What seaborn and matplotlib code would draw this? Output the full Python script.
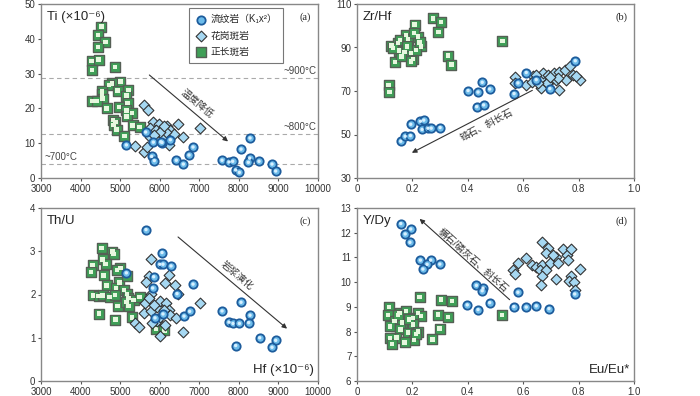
import numpy as np
import pandas as pd
import seaborn as sns
import matplotlib
matplotlib.use("Agg")
import matplotlib.pyplot as plt

sns.set_style("ticks")
plt.rcParams['font.family'] = ['Liberation Sans', 'Noto Sans CJK SC', 'DejaVu Sans']

# ---------------- data ----------------
groups = ["流纹岩（K₁x²）", "花岗斑岩", "正长斑岩"]

# Panel (a): Hf vs Ti
a_rhy_hf = [5645, 5157, 5839, 6058, 6269, 5797, 5864, 6420, 6597, 6740, 6842, 7575, 7752, 7844,
            7920, 8013, 8055, 8282, 8274, 8240, 8510, 8838, 8931, 6028]
a_rhy_ti = [13.2, 9.5, 10.3, 10.2, 11.0, 6.2, 5.0, 5.1, 4.0, 6.6, 8.9, 5.1, 4.6, 4.8,
            2.3, 1.6, 8.3, 11.5, 5.7, 4.5, 4.8, 4.0, 2.0, 10.4]
a_gra_hf = [5612, 5713, 5376, 5612, 5680, 7010, 6450, 6597, 5826, 5994, 5742, 5910, 6094, 6195,
            6263, 6364, 5759, 5944, 6094, 6162, 6011, 5843, 6230, 6120]
a_gra_ti = [21.1, 19.6, 9.1, 7.6, 8.8, 14.3, 15.4, 11.9, 16.0, 15.6, 14.3, 13.9, 14.2, 15.0,
            13.7, 12.7, 11.9, 11.9, 12.1, 13.1, 13.1, 12.4, 9.6, 14.8]
a_sye_hf = [4525, 4441, 4626, 4441, 4280, 4458, 4289, 4870, 5005, 4794, 4718, 4542, 5207, 4937,
            4542, 5157, 4559, 4289, 4407, 5190, 4660, 4971, 5157, 5300, 5165, 4820, 4879, 4837,
            5317, 5494, 4912, 5106]
a_sye_ti = [43.5, 41.1, 39.0, 37.6, 33.6, 34.0, 31.1, 31.9, 27.7, 27.2, 26.7, 25.0, 25.3, 25.1,
            24.1, 23.7, 22.8, 22.1, 22.1, 21.5, 20.0, 20.4, 19.4, 18.6, 17.7, 16.7, 16.1, 15.2,
            15.1, 14.7, 13.9, 12.0]

# Panel (b): Eu/Eu* vs Zr/Hf
b_rhy_eu = [0.158, 0.174, 0.193, 0.194, 0.229, 0.241, 0.235, 0.256, 0.268, 0.300, 0.401, 0.437,
            0.452, 0.479, 0.432, 0.457, 0.567, 0.581, 0.611, 0.647, 0.696, 0.788]
b_rhy_zh = [46.9, 49.2, 49.5, 54.7, 56.1, 56.6, 52.3, 52.9, 52.9, 53.2, 70.2, 69.5,
            74.0, 70.9, 62.8, 63.6, 68.8, 73.7, 78.5, 75.2, 71.1, 83.9]
b_gra_eu = [0.569, 0.572, 0.611, 0.635, 0.633, 0.665, 0.671, 0.690, 0.702, 0.710, 0.729, 0.750,
            0.768, 0.756, 0.780, 0.804, 0.729, 0.665, 0.686, 0.720, 0.653, 0.725, 0.696, 0.792, 0.647]
b_gra_zh = [76.3, 73.7, 72.7, 77.0, 74.3, 76.0, 78.5, 77.5, 75.2, 78.2, 78.7, 79.8,
            81.3, 75.2, 77.5, 75.2, 70.6, 71.4, 73.7, 75.2, 73.7, 76.0, 76.4, 76.7, 77.5]
b_sye_eu = [0.274, 0.304, 0.208, 0.294, 0.525, 0.329, 0.341, 0.114, 0.117, 0.124, 0.148, 0.176,
            0.156, 0.184, 0.220, 0.206, 0.232, 0.152, 0.172, 0.196, 0.202, 0.194, 0.138, 0.160,
            0.214, 0.130, 0.180, 0.226]
b_sye_zh = [103.4, 101.8, 100.5, 97.0, 93.1, 86.3, 82.1, 72.7, 69.5, 90.9, 92.0, 95.8,
            93.5, 94.0, 95.0, 96.6, 90.5, 88.6, 87.9, 87.4, 84.8, 83.6, 83.4, 85.9,
            88.9, 89.7, 90.5, 92.3]

# Panel (c): Hf vs Th/U
c_rhy_hf = [5654, 6058, 6000, 6083, 6286, 5847, 5157, 5822, 5881, 6083, 6437, 6842, 6614, 6757,
            7575, 7752, 7853, 8013, 8055, 8282, 8248, 8526, 7920, 8838, 8931]
c_rhy_th = [3.50, 2.97, 2.70, 2.70, 2.66, 2.41, 2.50, 2.15, 1.46, 1.55, 2.02, 2.24, 1.50, 1.61,
            1.62, 1.36, 1.33, 1.33, 1.82, 1.52, 1.35, 1.00, 0.82, 0.78, 0.94]
c_gra_hf = [5780, 5721, 5645, 6125, 6226, 6386, 6462, 7027, 5620, 5780, 5721, 5603, 5780, 5931,
            5998, 6150, 6226, 6268, 6100, 5931, 5805, 6134, 5998, 6420, 6597, 5376, 5486, 5998, 5847]
c_gra_th = [2.81, 2.42, 2.30, 2.27, 2.45, 2.21, 2.01, 1.81, 1.80, 2.02, 1.93, 1.57, 1.61, 1.70,
            1.85, 1.80, 1.65, 1.53, 1.65, 1.38, 1.34, 1.30, 1.03, 1.46, 1.13, 1.34, 1.24, 1.49, 1.76]
c_sye_hf = [4533, 4803, 4837, 4559, 4306, 4634, 4264, 4584, 5005, 4921, 4980, 4660, 4896, 5090,
            5174, 5174, 5207, 5342, 5494, 4314, 4458, 4559, 4735, 4870, 4937, 5157, 5216, 4466,
            4879, 5300, 5906, 6117]
c_sye_th = [3.07, 2.99, 2.93, 2.81, 2.68, 2.70, 2.52, 2.44, 2.61, 2.56, 2.28, 2.21, 2.15, 2.11,
            2.43, 2.01, 1.92, 1.87, 1.94, 1.98, 1.97, 1.98, 1.94, 1.99, 1.74, 1.82, 1.74, 1.56,
            1.42, 1.47, 1.20, 1.17]

# Panel (d): Eu/Eu* vs Y/Dy
d_rhy_eu = [0.158, 0.194, 0.174, 0.191, 0.229, 0.266, 0.299, 0.253, 0.238, 0.431, 0.455, 0.452,
            0.581, 0.398, 0.437, 0.479, 0.566, 0.611, 0.647, 0.693, 0.786]
d_rhy_yd = [12.37, 12.15, 11.95, 11.61, 10.89, 10.89, 10.73, 10.72, 10.53, 9.87, 9.76, 9.65,
            9.59, 9.08, 8.89, 9.17, 9.01, 8.99, 9.04, 8.93, 9.52]
d_gra_eu = [0.669, 0.689, 0.681, 0.717, 0.743, 0.758, 0.609, 0.581, 0.563, 0.569, 0.633, 0.647,
            0.669, 0.696, 0.726, 0.762, 0.659, 0.683, 0.669, 0.663, 0.720, 0.804, 0.774, 0.764,
            0.782, 0.787, 0.707, 0.774]
d_gra_yd = [11.63, 11.40, 11.16, 11.03, 11.36, 11.09, 10.96, 10.76, 10.49, 10.32, 10.69, 10.63,
            10.69, 10.76, 10.76, 10.89, 10.49, 10.49, 10.25, 9.89, 10.13, 10.53, 10.25, 10.03,
            10.00, 9.69, 11.09, 11.36]
d_sye_eu = [0.226, 0.304, 0.343, 0.524, 0.292, 0.328, 0.298, 0.272, 0.116, 0.112, 0.154, 0.176,
            0.220, 0.232, 0.202, 0.136, 0.163, 0.202, 0.120, 0.157, 0.184, 0.220, 0.142, 0.120,
            0.206, 0.172, 0.126, 0.148, 0.188, 0.214]
d_sye_yd = [9.41, 9.29, 9.23, 8.67, 8.69, 8.59, 8.12, 7.68, 8.99, 8.67, 8.76, 8.83,
            8.76, 8.63, 8.56, 8.43, 8.36, 8.29, 8.21, 8.09, 7.96, 8.00, 7.76, 7.73,
            7.67, 7.56, 7.49, 8.67, 8.49, 7.89]

hf_ticks = [3000, 4000, 5000, 6000, 7000, 8000, 9000, 10000]
eu_ticks = [0, 0.2, 0.4, 0.6, 0.8, 1.0]
eu_ticklabels = ["0", "0.2", "0.4", "0.6", "0.8", "1.0"]

# ---------------- styles ----------------
styles = {
    groups[0]: dict(marker="o", s=36, facecolor="#6cbbea", edgecolor="#1d5c9c", linewidth=1.3,
                    inner="#d8f0ff", inner_s=6),
    groups[1]: dict(marker="D", s=30, facecolor="#a6d8f2", edgecolor="#333333", linewidth=0.8,
                    inner=None, inner_s=0),
    groups[2]: dict(marker="s", s=42, facecolor="#3f9f57", edgecolor="#555f55", linewidth=1.0,
                    inner="#e6f7de", inner_s=10),
}

fig = plt.figure(figsize=(7.0, 3.96), dpi=100)
axA = fig.add_axes([41/700, 1-178/396, 277/700, 174/396])
axB = fig.add_axes([357/700, 1-178/396, 277/700, 174/396])
axC = fig.add_axes([41/700, 1-381/396, 277/700, 173/396])
axD = fig.add_axes([357/700, 1-381/396, 277/700, 173/396])

def draw(ax, sets):
    for gi in [2, 1, 0]:
        xs, ys = sets[gi]
        df = pd.DataFrame({"x": xs, "y": ys})
        st = styles[groups[gi]]
        sns.scatterplot(data=df, x="x", y="y", ax=ax, marker=st["marker"], s=st["s"],
                        color=st["facecolor"], edgecolor=st["edgecolor"],
                        linewidth=st["linewidth"], label=groups[gi], zorder=3)
        if st["inner"] is not None:
            sns.scatterplot(data=df, x="x", y="y", ax=ax, marker=st["marker"], s=st["inner_s"],
                            color=st["inner"], edgecolor="none", linewidth=0, zorder=3)
    ax.set_xlabel("")
    ax.set_ylabel("")

draw(axA, [(a_rhy_hf, a_rhy_ti), (a_gra_hf, a_gra_ti), (a_sye_hf, a_sye_ti)])
draw(axB, [(b_rhy_eu, b_rhy_zh), (b_gra_eu, b_gra_zh), (b_sye_eu, b_sye_zh)])
draw(axC, [(c_rhy_hf, c_rhy_th), (c_gra_hf, c_gra_th), (c_sye_hf, c_sye_th)])
draw(axD, [(d_rhy_eu, d_rhy_yd), (d_gra_eu, d_gra_yd), (d_sye_eu, d_sye_yd)])

tick_color = "#333333"
for ax in [axA, axB, axC, axD]:
    for sp in ax.spines.values():
        sp.set_color("#888888")
        sp.set_linewidth(1.0)
    ax.tick_params(axis="both", labelsize=7, colors="#555555", labelcolor=tick_color,
                   length=2.5, width=0.8, direction="out", pad=1.5)

for ax in [axA, axC]:
    ax.set_xlim(3000, 10000)
    ax.set_xticks(hf_ticks)
    ax.set_xticklabels([str(t) for t in hf_ticks])
for ax in [axB, axD]:
    ax.set_xlim(0, 1.0)
    ax.set_xticks(eu_ticks)
    ax.set_xticklabels(eu_ticklabels)

axA.set_ylim(0, 50); axA.set_yticks([0, 10, 20, 30, 40, 50])
axB.set_ylim(30, 110); axB.set_yticks([30, 50, 70, 90, 110])
axC.set_ylim(0, 4); axC.set_yticks([0, 1, 2, 3, 4])
axD.set_ylim(6, 13); axD.set_yticks([6, 7, 8, 9, 10, 11, 12, 13])

# legend only in (a)
for ax in [axB, axC, axD]:
    lg = ax.get_legend()
    if lg is not None:
        lg.remove()
h, l = axA.get_legend_handles_labels()
hmap = {}
for hd, lab in zip(h, l):
    if lab in groups and lab not in hmap:
        hmap[lab] = hd
leg = axA.legend([hmap[g] for g in groups], groups, loc="upper left",
                 bbox_to_anchor=(0.535, 0.975), frameon=True, fancybox=False,
                 fontsize=7, handletextpad=0.4, borderpad=0.6, labelspacing=0.65,
                 handlelength=1.2, borderaxespad=0)
leg.get_frame().set_edgecolor("#555555")
leg.get_frame().set_linewidth(0.8)

title_fs = 9.5
axA.text(0.02, 0.96, "Ti (×10⁻⁶)", transform=axA.transAxes, fontsize=title_fs, va="top", ha="left")
axB.text(0.02, 0.96, "Zr/Hf", transform=axB.transAxes, fontsize=title_fs, va="top", ha="left")
axC.text(0.02, 0.96, "Th/U", transform=axC.transAxes, fontsize=title_fs, va="top", ha="left")
axD.text(0.02, 0.96, "Y/Dy", transform=axD.transAxes, fontsize=title_fs, va="top", ha="left")
axC.text(0.985, 0.03, "Hf (×10⁻⁶)", transform=axC.transAxes, fontsize=title_fs, va="bottom", ha="right")
axD.text(0.985, 0.03, "Eu/Eu*", transform=axD.transAxes, fontsize=title_fs, va="bottom", ha="right")

for ax, lab in zip([axA, axB, axC, axD], ["(a)", "(b)", "(c)", "(d)"]):
    ax.text(0.975, 0.95, lab, transform=ax.transAxes, fontsize=7.5, va="top", ha="right",
            family=["Liberation Serif", "DejaVu Serif"])

# temperature lines in (a)
for yv in [28.7, 12.6, 4.0]:
    axA.axhline(yv, color="#aaaaaa", lw=0.8, ls=(0, (4, 3)), zorder=1)
axA.text(9950, 29.3, "~900°C", fontsize=7, color="#444444", ha="right", va="bottom")
axA.text(9950, 13.2, "~800°C", fontsize=7, color="#444444", ha="right", va="bottom")
axA.text(3080, 4.6, "~700°C", fontsize=7, color="#444444", ha="left", va="bottom")

arrow_kw = dict(arrowstyle="-|>", color="#333333", lw=0.8, mutation_scale=7, shrinkA=0, shrinkB=0)
cn_fs = 7
axA.annotate("", xy=(7726, 10.5), xytext=(5738, 29.6), arrowprops=arrow_kw)
axA.text(6943, 21.5, "温度降低", rotation=-40, rotation_mode="anchor", ha="center", va="center",
         fontsize=cn_fs, color="#333333")

axB.annotate("", xy=(0.198, 41.6), xytext=(0.633, 70.3), arrowprops=arrow_kw)
axB.text(0.467, 54.6, "锆石、斜长石", rotation=27.5, rotation_mode="anchor", ha="center", va="center",
         fontsize=cn_fs, color="#333333")

axC.annotate("", xy=(9218, 1.21), xytext=(6463, 3.33), arrowprops=arrow_kw)
axC.text(7954, 2.45, "岩浆演化", rotation=-40, rotation_mode="anchor", ha="center", va="center",
         fontsize=cn_fs, color="#333333")

axD.annotate("", xy=(0.226, 12.56), xytext=(0.551, 9.29), arrowprops=arrow_kw)
axD.text(0.419, 10.89, "榍石/磷灰石、斜长石", rotation=-42, rotation_mode="anchor", ha="center",
         va="center", fontsize=cn_fs, color="#333333")

fig.savefig("out.png", dpi=100)
